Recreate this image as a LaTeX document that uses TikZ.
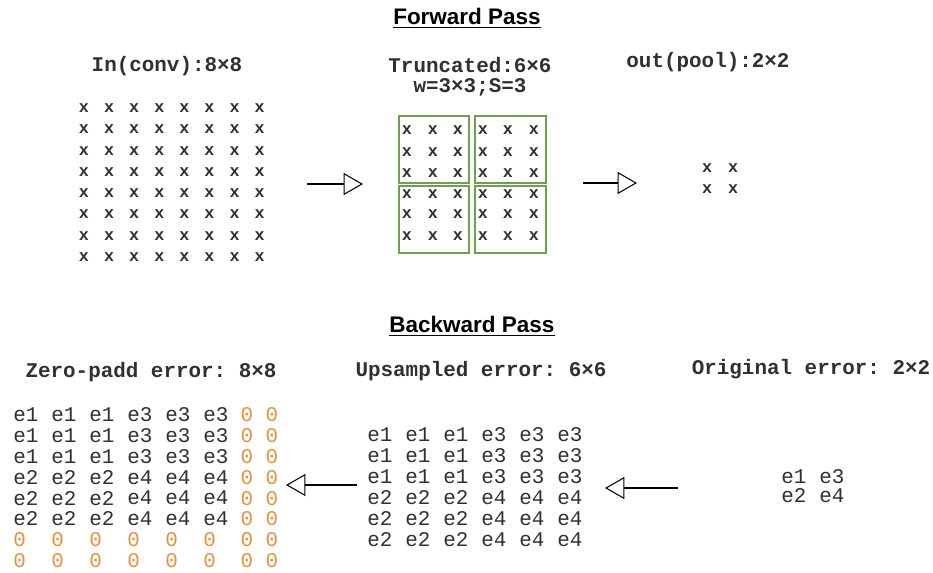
\documentclass[tikz,border=0pt]{standalone}
\usepackage{fontspec}
\setmainfont{Liberation Sans}
\setmonofont{Liberation Mono}
\usepackage{xcolor}
\usetikzlibrary{arrows.meta,positioning,calc}
\definecolor{boxgreen}{HTML}{70A04E}
\definecolor{padorange}{HTML}{E8903A}
\definecolor{txtgray}{HTML}{303030}

\begin{document}
\begin{tikzpicture}[
			x = 0.02cm, y = -0.02cm,
			title/.style = {font=\fontsize{12.8}{14}\selectfont\bfseries, text=black},
			lbl/.style = {font=\ttfamily\bfseries\fontsize{11.9}{13}\selectfont, text=txtgray},
			cellx/.style = {font=\ttfamily\bfseries\fontsize{9.5}{10}\selectfont, text=txtgray, inner sep=0pt},
			celle/.style = {font=\ttfamily\fontsize{11.9}{13}\selectfont, text=txtgray, inner sep=0pt, anchor=west},
			cellz/.style = {celle, text=padorange},
			win/.style = {draw=boxgreen, line width=0.8pt},
			flow/.style = {-{Triangle[open, length=11pt, width=12.5pt]}, line width=0.6pt}
			]

			\useasboundingbox (0,0) rectangle (933,572);

			% forward pass
			\node[title] (fwd) at (467,18) {\underline{Forward Pass}};
			\node[lbl] (inlbl) at (167,66) {In(conv):8×8};
			\node[lbl] (trlbl) at (470,65) {Truncated:6×6};
			\node[lbl] (wlbl) at (470,87) {w=3×3;S=3};
			\node[lbl] (outlbl) at (708,62) {out(pool):2×2};

			\foreach \r in {0,...,7}{
				\foreach \c in {0,...,7}{
					\node[cellx] (in-\r-\c) at ({84+25.1*\c},{108+21.3*\r}) {x};
				}
			}

			\foreach \r/\py in {0/130,1/152,2/173,3/194,4/214,5/236}{
				\foreach \c/\px in {0/407,1/433,2/458,3/483,4/508,5/534}{
					\node[cellx] (tr-\r-\c) at (\px,\py) {x};
				}
			}
			\draw[win] (399,116) rectangle (469,183);
			\draw[win] (475,116) rectangle (546,183);
			\draw[win] (399,186) rectangle (469,253);
			\draw[win] (475,186) rectangle (546,253);

			\foreach \r/\py in {0/168,1/189}{
				\foreach \c/\px in {0/707,1/733}{
					\node[cellx] (out-\r-\c) at (\px,\py) {x};
				}
			}

			\coordinate (f1a) at (307,184);
			\coordinate (f1b) at (363,184);
			\coordinate (f2a) at (583,183);
			\coordinate (f2b) at (637,183);
			\draw[flow] (f1a) -- (f1b);
			\draw[flow] (f2a) -- (f2b);

			% backward pass
			\node[title] (bwd) at (472,326) {\underline{Backward Pass}};
			\node[lbl] (zplbl) at (151,372) {Zero-padd error: 8×8};
			\node[lbl] (uplbl) at (481,371) {Upsampled error: 6×6};
			\node[lbl] (orlbl) at (811,369) {Original error: 2×2};

			\foreach \r/\a/\b in {0/1/3,1/1/3,2/1/3,3/2/4,4/2/4,5/2/4}{
				\foreach \c in {0,1,2}{
					\node[celle] (zp-\r-\c) at ({13+38*\c},{415+20.8*\r}) {e\a};
					\node[celle] (up-\r-\c) at ({367+38*\c},{435+21*\r}) {e\a};
				}
				\foreach \c in {3,4,5}{
					\node[celle] (zp-\r-\c) at ({13+38*\c},{415+20.8*\r}) {e\b};
					\node[celle] (up-\r-\c) at ({367+38*\c},{435+21*\r}) {e\b};
				}
				\node[cellz, anchor=center] (zp-\r-6) at (247,{415+20.8*\r}) {0};
				\node[cellz, anchor=center] (zp-\r-7) at (272,{415+20.8*\r}) {0};
			}
			\foreach \r in {6,7}{
				\foreach \c in {0,...,5}{
					\node[cellz] (zp-\r-\c) at ({13+38*\c},{415+20.8*\r}) {0};
				}
				\node[cellz, anchor=center] (zp-\r-6) at (247,{415+20.8*\r}) {0};
				\node[cellz, anchor=center] (zp-\r-7) at (272,{415+20.8*\r}) {0};
			}

			\foreach \r/\py/\a/\b in {0/477/1/3,1/496/2/4}{
				\node[celle] (or-\r-0) at (781,\py) {e\a};
				\node[celle] (or-\r-1) at (819,\py) {e\b};
			}

			\coordinate (b1a) at (357,485);
			\coordinate (b1b) at (286,485);
			\coordinate (b2a) at (678,488);
			\coordinate (b2b) at (605,488);
			\draw[flow] (b1a) -- (b1b);
			\draw[flow] (b2a) -- (b2b);

		\end{tikzpicture}
\end{document}
